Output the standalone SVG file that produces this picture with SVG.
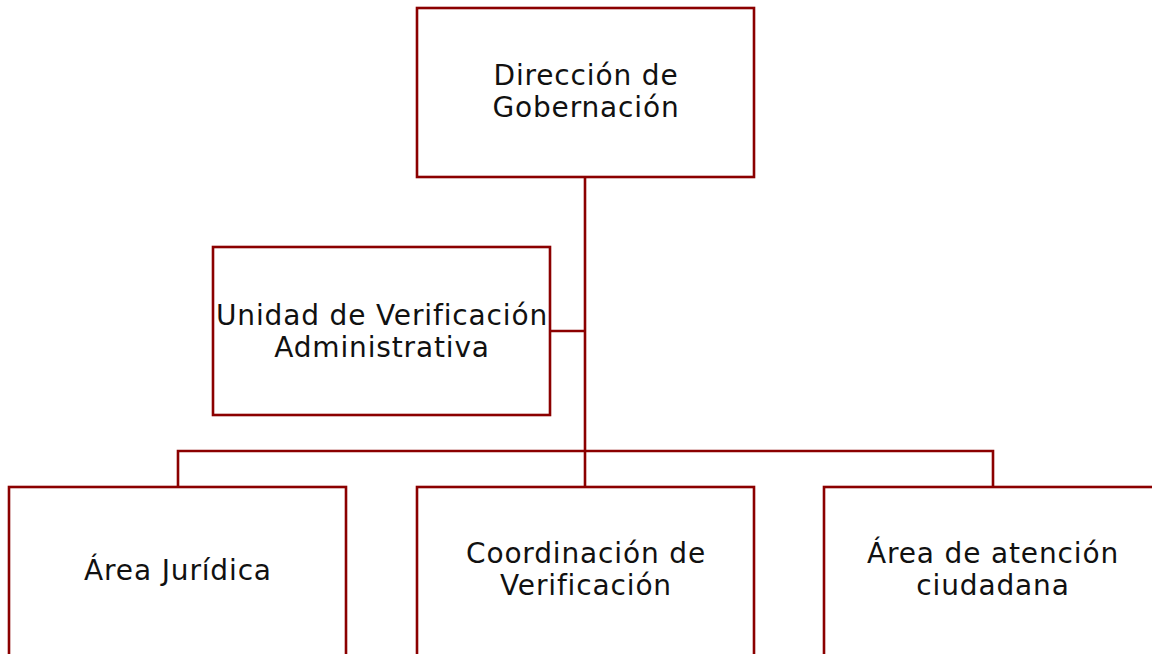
<svg xmlns="http://www.w3.org/2000/svg" width="1152" height="654" viewBox="0 0 1152 654">
<style>
.box{fill:#ffffff;stroke:#8b0000;stroke-width:2.6}
.conn{fill:none;stroke:#8b0000;stroke-width:2.6}
.lbl{font-family:"DejaVu Sans","Liberation Sans",sans-serif;font-size:28px;letter-spacing:0.85px;fill:#111111;text-anchor:middle}
</style>
<rect width="1152" height="654" fill="#ffffff"/>
<g id="connectors">
<path class="conn" d="M585 177 V451"/>
<path class="conn" d="M550 331 H585"/>
<path class="conn" d="M178 487 V451 H993 V487"/>
<path class="conn" d="M585 451 V487"/>
</g>
<g id="direccion">
<rect class="box" x="417" y="8" width="337" height="169"/>
<text class="lbl"><tspan x="586" y="85">Dirección de</tspan><tspan x="586" y="117">Gobernación</tspan></text>
</g>
<g id="unidad">
<rect class="box" x="213" y="247" width="337" height="168"/>
<text class="lbl"><tspan x="382" y="324.5">Unidad de Verificación</tspan><tspan x="382" y="356.5">Administrativa</tspan></text>
</g>
<g id="juridica">
<rect class="box" x="9" y="487" width="337" height="170"/>
<text class="lbl" x="178" y="580">Área Jurídica</text>
</g>
<g id="coordinacion">
<rect class="box" x="417" y="487" width="337" height="170"/>
<text class="lbl"><tspan x="586" y="562.5">Coordinación de</tspan><tspan x="586" y="594.5">Verificación</tspan></text>
</g>
<g id="atencion">
<rect class="box" x="824" y="487" width="337" height="170"/>
<text class="lbl"><tspan x="993" y="562.5">Área de atención</tspan><tspan x="993" y="594.5">ciudadana</tspan></text>
</g>
</svg>
